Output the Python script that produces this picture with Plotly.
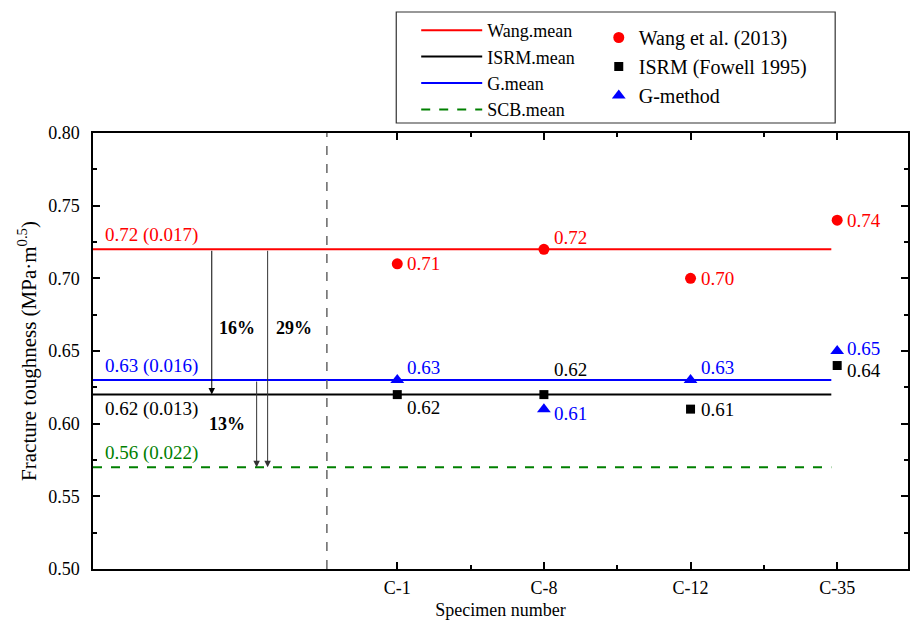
import plotly.graph_objects as go

# ---------------- data ----------------
categories = ["C-1", "C-8", "C-12", "C-35"]
cat_pos = [1, 2, 3, 4]

wang = [0.71, 0.72, 0.70, 0.74]
isrm = [0.62, 0.62, 0.61, 0.64]
gmeth = [0.63, 0.61, 0.63, 0.65]

mean_names = ["Wang.mean", "ISRM.mean", "G.mean", "SCB.mean"]
mean_values = [0.72, 0.62, 0.63, 0.57]
mean_labels = ["0.72 (0.017)", "0.62 (0.013)", "0.63 (0.016)", "0.56 (0.022)"]

pct_labels = ["16%", "29%", "13%"]

# ---------------- styling / placement ----------------
mean_colors = ["#ff0000", "#000000", "#0000ff", "#008000"]
mean_dash = ["solid", "solid", "solid", "dash"]
# vertical pixel offsets of the value labels (positive = down in picture)
wang_dy = [0, -12, 0, 0]
isrm_dy = [13, -25, 0, 5]
gmeth_dy = [-13, 4, -13, -3]

FONT = "Liberation Serif, Times New Roman, serif"
X_RANGE = [-1.075, 4.483]
LINE_END = 3.96
DIVIDER_X = 0.52

PL, PR, PT, PB = 93, 910, 133, 569
def px_x(px):
    return (px - PL) / (PR - PL)
def px_y(py):
    return (PB - py) / (PB - PT)

fig = go.Figure()

for name, val, col, dsh in zip(mean_names, mean_values, mean_colors, mean_dash):
    fig.add_trace(go.Scatter(
        x=[X_RANGE[0], LINE_END], y=[val, val], mode="lines", name=name,
        line=dict(color=col, width=2, dash=dsh), legend="legend",
        hoverinfo="skip"))

series = [
    ("Wang et al. (2013)", wang, "circle", 11, "#ff0000", wang_dy, "a"),
    ("ISRM (Fowell 1995)", isrm, "square", 9, "#000000", isrm_dy, "b"),
    ("G-method", gmeth, "triangle-up", 12, "#0000ff", gmeth_dy, "c"),
]

annotations = []
for name, vals, sym, size, col, dys, grp in series:
    fig.add_trace(go.Scatter(
        x=cat_pos, y=vals, mode="markers", name=name,
        marker=dict(symbol=sym, size=size, color=col),
        legend="legend2", legendgroup=grp))
    for xp, v, dy in zip(cat_pos, vals, dys):
        annotations.append(dict(
            x=xp, y=v, xref="x", yref="y", text=f"{v:.2f}", showarrow=False,
            xanchor="left", yanchor="middle", xshift=8, yshift=-dy,
            font=dict(family=FONT, size=19, color=col)))

label_anchor = ["bottom", "top", "bottom", "bottom"]
for lab, val, col, anc in zip(mean_labels, mean_values, mean_colors, label_anchor):
    annotations.append(dict(
        x=-1.01, y=val, xref="x", yref="y", text=lab, showarrow=False,
        xanchor="left", yanchor=anc, yshift=(1 if anc == "bottom" else -1),
        font=dict(family=FONT, size=19, color=col)))

arrow_defs = [(-0.265, mean_values[0], mean_values[1], "#000000"),
              (0.116, mean_values[0], mean_values[3], "#333333"),
              (0.041, mean_values[2], mean_values[3], "#333333")]
for xa, ytop, ybot, col in arrow_defs:
    annotations.append(dict(
        x=xa, y=ybot, ax=xa, ay=ytop, xref="x", yref="y", axref="x", ayref="y",
        text="", showarrow=True, arrowhead=2, arrowsize=1.3, arrowwidth=1,
        arrowcolor=col))

pct_xy = [(-0.095, 0.666), (0.293, 0.666), (-0.163, 0.600)]
for lab, (px, py) in zip(pct_labels, pct_xy):
    annotations.append(dict(
        x=px, y=py, xref="x", yref="y", text=f"<b>{lab}</b>", showarrow=False,
        font=dict(family=FONT, size=18, color="#000000")))

shapes = [
    dict(type="line", xref="x", yref="paper", x0=DIVIDER_X, x1=DIVIDER_X, y0=0, y1=1,
         line=dict(color="#666666", width=1.5, dash="dash")),
    dict(type="rect", xref="paper", yref="paper",
         x0=px_x(397), x1=px_x(837), y0=px_y(123), y1=px_y(12),
         line=dict(color="#333333", width=1.2), fillcolor="rgba(0,0,0,0)"),
]

axis_common = dict(
    showline=True, linecolor="#000000", linewidth=1.5, mirror="ticks",
    ticks="inside", ticklen=7, tickwidth=1.5, tickcolor="#000000",
    showgrid=False, zeroline=False,
    tickfont=dict(family=FONT, size=18, color="#000000"),
)

fig.update_layout(
    width=915, height=627,
    margin=dict(l=PL, r=915 - PR, t=PT, b=627 - PB),
    paper_bgcolor="white", plot_bgcolor="white",
    font=dict(family=FONT, size=18, color="#000000"),
    xaxis=dict(
        **axis_common, range=X_RANGE, tickmode="array", tickvals=cat_pos,
        ticktext=categories, ticklabelstandoff=2,
        minor=dict(tickmode="array", tickvals=[1.5, 2.5, 3.5], ticks="inside",
                   ticklen=4, tickwidth=1.5, tickcolor="#000000"),
        title=dict(text="Specimen number", standoff=6,
                   font=dict(family=FONT, size=18)),
    ),
    yaxis=dict(
        **axis_common, range=[0.5, 0.8], tickmode="linear", tick0=0.5,
        dtick=0.05, tickformat=".2f", ticklabelstandoff=8,
        minor=dict(dtick=0.025, ticks="inside", ticklen=4, tickwidth=1.5,
                   tickcolor="#000000"),
        title=dict(text="Fracture toughness (MPa·m<sup>0.5</sup>)", standoff=6,
                   font=dict(family=FONT, size=21)),
    ),
    showlegend=True,
    legend=dict(x=px_x(417), y=px_y(12),
                xanchor="left", yanchor="top", bgcolor="rgba(0,0,0,0)",
                font=dict(family=FONT, size=18), tracegroupgap=0, itemwidth=61),
    legend2=dict(x=px_x(600), y=px_y(18),
                 xanchor="left", yanchor="top", bgcolor="rgba(0,0,0,0)",
                 font=dict(family=FONT, size=20), tracegroupgap=0),
    annotations=annotations,
    shapes=shapes,
)

fig.write_html("out.html")
